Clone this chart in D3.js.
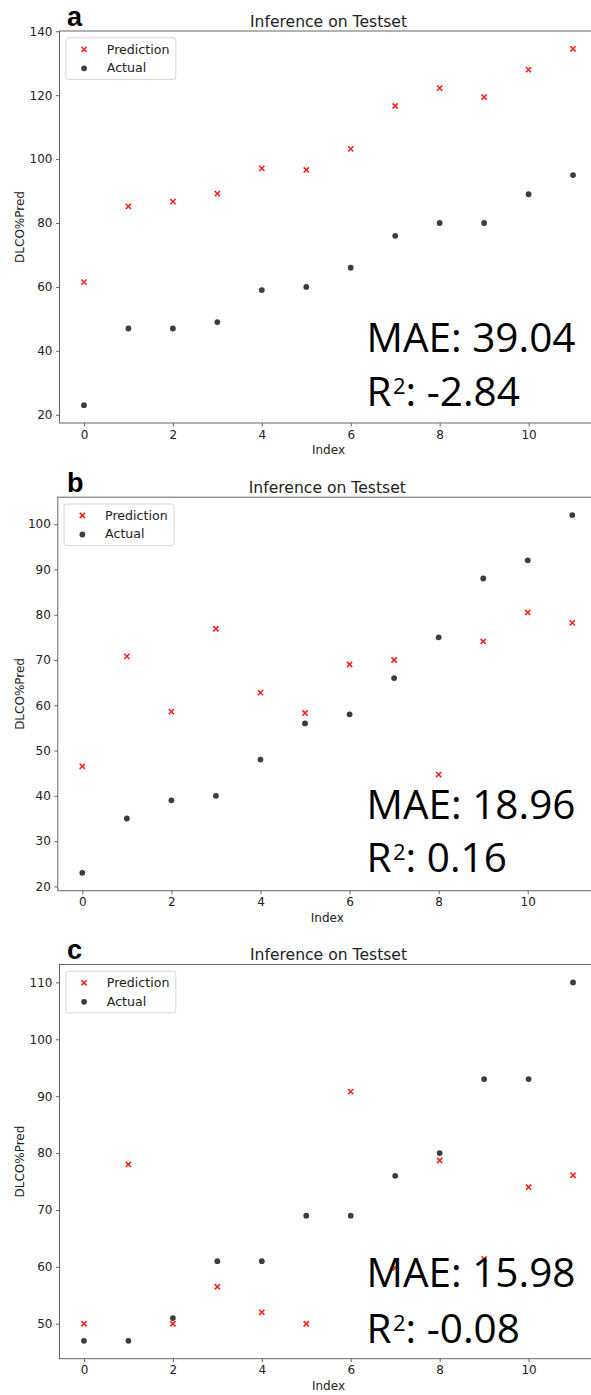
<!DOCTYPE html>
<html>
<head>
<meta charset="utf-8">
<script src="https://cdn.jsdelivr.net/npm/d3@7"></script>
<style>
  html, body { margin: 0; padding: 0; background: #fff; }
  svg { display: block; }
</style>
</head>
<body>
<svg id="chart" width="591" height="1395"></svg>
<script>
// ---------- data ----------
const indexValues = [0, 1, 2, 3, 4, 5, 6, 7, 8, 9, 10, 11];
const xTicks = [0, 2, 4, 6, 8, 10];

const predA   = [61.5, 85.2, 86.7, 89.2, 97.1, 96.6, 103.2, 116.6, 122.2, 119.4, 128.0, 134.5];
const actualA = [23, 47, 47, 49, 59, 60, 66, 76, 80, 80, 89, 95];
const yTicksA = [20, 40, 60, 80, 100, 120, 140];

const predB   = [46.5, 70.8, 58.6, 76.9, 62.8, 58.3, 69.0, 70.0, 44.7, 74.1, 80.5, 78.2];
const actualB = [23, 35, 39, 40, 48, 56, 58, 66, 75, 88, 92, 102];
const yTicksB = [20, 30, 40, 50, 60, 70, 80, 90, 100];

const predC   = [50.0, 78.0, 50.0, 56.5, 52.0, 50.0, 90.8, 59.8, 78.7, 61.4, 74.0, 76.1];
const actualC = [47, 47, 51, 61, 61, 69, 69, 76, 80, 93, 93, 110];
const yTicksC = [50, 60, 70, 80, 90, 100, 110];

const panelLetters = ["a", "b", "c"];
const titleText = "Inference on Testset";
const legendLabels = ["Prediction", "Actual"];
const maeTexts = ["MAE: 39.04", "MAE: 18.96", "MAE: 15.98"];
const r2Values = [": -2.84", ": 0.16", ": -0.08"];

// ---------- layout ----------
const panels = [
  { pred: predA, actual: actualA, yTicks: yTicksA, left: 59.5, right: 597.5, top: 31,    bottom: 423,    maeY: 351.5,  r2Y: 406 },
  { pred: predB, actual: actualB, yTicks: yTicksB, left: 57.8, right: 596.8, top: 497.2, bottom: 890.7,  maeY: 819.3,  r2Y: 871.7 },
  { pred: predC, actual: actualC, yTicks: yTicksC, left: 59.5, right: 597.5, top: 964.5, bottom: 1358.7, maeY: 1287.3, r2Y: 1342.7 }
];

const svg = d3.select("#chart");
const FONT = "DejaVu Sans, sans-serif";
const spineColor = "#666";
const textColor = "#222";
const predColor = "#ff2020";
const actColor = "#3d3d3d";

function xMarker(g, cx, cy, s) {
  g.append("path")
    .attr("d", `M${cx - s},${cy - s}L${cx + s},${cy + s}M${cx - s},${cy + s}L${cx + s},${cy - s}`)
    .attr("stroke", predColor).attr("stroke-width", 1.6).attr("fill", "none");
}

panels.forEach((p, i) => {
  const all = p.pred.concat(p.actual);
  const [mn, mx] = d3.extent(all);
  const pad = (mx - mn) * 0.05;
  const xpad = (indexValues[indexValues.length - 1] - indexValues[0]) * 0.05;

  const x = d3.scaleLinear()
    .domain([indexValues[0] - xpad, indexValues[indexValues.length - 1] + xpad])
    .range([p.left, p.right]);
  const y = d3.scaleLinear().domain([mn - pad, mx + pad]).range([p.bottom, p.top]);

  const g = svg.append("g");

  // spines (top, left, bottom; right falls outside the image)
  g.append("rect")
    .attr("x", p.left).attr("y", p.top)
    .attr("width", p.right - p.left).attr("height", p.bottom - p.top)
    .attr("fill", "none").attr("stroke", spineColor).attr("stroke-width", 1);

  // x axis
  const xAxis = d3.axisBottom(x).tickValues(xTicks).tickSize(3.5).tickPadding(3.5).tickFormat(d3.format("d"));
  const xg = g.append("g").attr("transform", `translate(0,${p.bottom})`).call(xAxis);
  xg.select(".domain").remove();
  xg.selectAll("line").attr("stroke", spineColor);
  xg.selectAll("text").attr("font-family", FONT).attr("font-size", 12).attr("fill", textColor);

  // y axis
  const yAxis = d3.axisLeft(y).tickValues(p.yTicks).tickSize(3.5).tickPadding(3.5).tickFormat(d3.format("d"));
  const yg = g.append("g").attr("transform", `translate(${p.left},0)`).call(yAxis);
  yg.select(".domain").remove();
  yg.selectAll("line").attr("stroke", spineColor);
  yg.selectAll("text").attr("font-family", FONT).attr("font-size", 12).attr("fill", textColor);

  // axis labels
  g.append("text")
    .attr("x", (p.left + p.right) / 2).attr("y", p.bottom + 31)
    .attr("text-anchor", "middle").attr("font-family", FONT).attr("font-size", 12).attr("fill", textColor)
    .text("Index");
  g.append("text")
    .attr("transform", `translate(24,${(p.top + p.bottom) / 2}) rotate(-90)`)
    .attr("text-anchor", "middle").attr("font-family", FONT).attr("font-size", 12).attr("fill", textColor)
    .text("DLCO%Pred");

  // title
  g.append("text")
    .attr("x", (p.left + p.right) / 2).attr("y", p.top - 4.5)
    .attr("text-anchor", "middle").attr("font-family", FONT).attr("font-size", 15.6).attr("fill", textColor)
    .text(titleText);

  // panel letter
  g.append("text")
    .attr("x", 67).attr("y", p.top - 5.5)
    .attr("font-family", "Liberation Sans, Arial, sans-serif").attr("font-weight", "bold")
    .attr("font-size", 27).attr("fill", "#000")
    .text(panelLetters[i]);

  // points
  g.selectAll("circle.act").data(p.actual).join("circle")
    .attr("class", "act")
    .attr("cx", (d, j) => x(indexValues[j])).attr("cy", d => y(d))
    .attr("r", 2.9).attr("fill", actColor);
  p.pred.forEach((d, j) => xMarker(g, x(indexValues[j]), y(d), 2.6));

  // legend
  const lx = p.left + 6.3, ly = p.top + 6.8;
  g.append("rect")
    .attr("x", lx).attr("y", ly).attr("width", 110).attr("height", 41.6)
    .attr("rx", 2.5).attr("fill", "#fff").attr("fill-opacity", 0.8)
    .attr("stroke", "#d8d8d8").attr("stroke-width", 1);
  xMarker(g, lx + 18.3, ly + 11.5, 2.6);
  g.append("circle").attr("cx", lx + 18.3).attr("cy", ly + 30.5).attr("r", 2.9).attr("fill", actColor);
  g.append("text").attr("x", lx + 41).attr("y", ly + 15.8)
    .attr("font-family", FONT).attr("font-size", 12.6).attr("fill", textColor).text(legendLabels[0]);
  g.append("text").attr("x", lx + 41).attr("y", ly + 34.4)
    .attr("font-family", FONT).attr("font-size", 12.6).attr("fill", textColor).text(legendLabels[1]);

  // metrics overlay
  const MFONT = "Open Sans, Noto Sans, sans-serif";
  g.append("text")
    .attr("x", 366.5).attr("y", p.maeY)
    .attr("font-family", MFONT).attr("font-size", 40.5).attr("fill", "#000")
    .text(maeTexts[i]);
  const r2 = g.append("text")
    .attr("x", 366.5).attr("y", p.r2Y)
    .attr("font-family", MFONT).attr("font-size", 40.5).attr("fill", "#000");
  r2.append("tspan").text("R");
  r2.append("tspan").attr("font-size", 22).attr("dx", 1.5).attr("dy", -12).text("2");
  r2.append("tspan").attr("dy", 12).text(r2Values[i]);
});
</script>
</body>
</html>
